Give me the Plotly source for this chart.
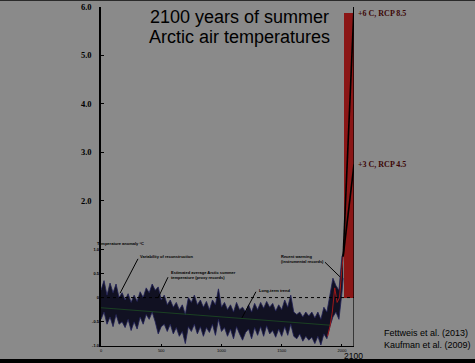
import plotly.graph_objects as go

# ---- data ----
years = [0, 25, 50, 75, 100, 125, 150, 175, 200, 225, 250, 275, 300, 325, 350, 375, 400,
         425, 450, 475, 500, 525, 550, 575, 600, 625, 650, 675, 700, 725, 750, 775, 800,
         825, 850, 875, 900, 925, 950, 975, 1000, 1025, 1050, 1075, 1100, 1125, 1150, 1175,
         1200, 1225, 1250, 1275, 1300, 1325, 1350, 1375, 1400, 1425, 1450, 1475, 1500, 1525,
         1550, 1575, 1600, 1625, 1650, 1675, 1700, 1725, 1750, 1775, 1800, 1825, 1850, 1875,
         1900, 1925, 1950, 1975, 2000, 2010]
upper = [0.15, 0.35, 0.05, 0.30, 0.10, 0.28, 0.00, 0.10, -0.05, 0.08, -0.10, 0.05, -0.08, 0.12,
         0.00, 0.20, 0.10, 0.28, 0.15, 0.22, -0.05, 0.05, -0.15, -0.05, -0.20, -0.10, -0.25,
         -0.15, -0.35, 0.00, -0.10, 0.05, -0.15, -0.05, -0.20, -0.08, -0.25, -0.05, -0.15, 0.18,
         -0.20, -0.10, -0.25, -0.15, -0.30, -0.10, -0.25, -0.20, -0.30, -0.15, -0.30, -0.12,
         -0.25, -0.10, -0.22, -0.08, -0.20, -0.12, -0.28, -0.15, -0.25, -0.05, -0.20, 0.05,
         -0.30, -0.35, -0.30, -0.40, -0.30, -0.38, -0.30, -0.42, -0.30, -0.45, -0.20, -0.30,
         0.05, 0.40, 0.25, 0.15, 0.85, 0.90]
lower = [-0.45, -0.30, -0.55, -0.40, -0.60, -0.35, -0.55, -0.50, -0.62, -0.45, -0.68, -0.50,
         -0.65, -0.40, -0.55, -0.35, -0.45, -0.30, -0.50, -0.75, -0.60, -0.55, -0.70, -0.55,
         -0.75, -0.62, -0.80, -0.70, -0.95, -0.60, -0.70, -0.55, -0.75, -0.60, -0.80, -0.62,
         -0.72, -0.55, -0.78, -0.45, -0.70, -0.62, -0.80, -0.65, -0.85, -0.60, -0.75, -0.88,
         -0.72, -0.65, -0.85, -0.62, -0.78, -0.60, -0.80, -0.58, -0.75, -0.68, -0.82, -0.65,
         -0.80, -0.60, -0.78, -0.55, -0.80, -0.85, -0.75, -0.90, -0.80, -0.88, -0.82, -0.95,
         -0.80, -0.98, -0.75, -0.85, -0.60, -0.40, -0.30, -0.45, 0.10, 0.40]

trend_years = [0, 1900]
trend_values = [-0.21, -0.57]

instr_years = [1880, 1900, 1920, 1940, 1960, 1980, 2000, 2010]
instr_values = [-0.80, -0.60, -0.30, 0.20, -0.10, 0.00, 0.60, 0.85]

proj_years = [2010, 2100]
rcp85 = [0.85, 6.0]
rcp45 = [0.85, 2.75]

bar_x0, bar_x1, bar_top = 2020, 2100, 5.88

main_ticks = [2, 3, 4, 5, 6]
main_ticktext = ["2.0", "3.0", "4.0", "5.0", "6.0"]
inner_ticks = [-1, -0.5, 0, 0.5, 1]
inner_ticktext = ["-1.0", "-0.5", "0", "0.5", "1.0"]
x_ticks = [0, 500, 1000, 1500, 2000]
x_ticktext = ["0", "500", "1000", "1500", "2000"]

BG = "#8a8a8a"
BAND = "#111122"
EDGE = "#1e1e55"

fig = go.Figure()

# red projection bar
fig.add_trace(go.Bar(x=[(bar_x0 + bar_x1) / 2], y=[bar_top], width=[bar_x1 - bar_x0],
                     marker=dict(color="#8b1616", line=dict(width=0)), showlegend=False,
                     hoverinfo="skip"))

# uncertainty band
fig.add_trace(go.Scatter(x=years, y=lower, mode="lines", line=dict(color=EDGE, width=0.8),
                         showlegend=False, hoverinfo="skip"))
fig.add_trace(go.Scatter(x=years, y=upper, mode="lines", line=dict(color=EDGE, width=0.8),
                         fill="tonexty", fillcolor=BAND, showlegend=False, hoverinfo="skip"))

# long-term trend
fig.add_trace(go.Scatter(x=trend_years, y=trend_values, mode="lines",
                         line=dict(color="#1d4d22", width=0.8), showlegend=False))
# instrumental
fig.add_trace(go.Scatter(x=instr_years, y=instr_values, mode="lines",
                         line=dict(color="#a01818", width=1), showlegend=False))
# projections
fig.add_trace(go.Scatter(x=proj_years, y=rcp85, mode="lines",
                         line=dict(color="black", width=1.6), showlegend=False))
fig.add_trace(go.Scatter(x=proj_years, y=rcp45, mode="lines",
                         line=dict(color="black", width=1.6), showlegend=False))

# dummy trace for the inner axis
fig.add_trace(go.Scatter(x=[0], y=[0], yaxis="y2", mode="markers",
                         marker=dict(opacity=0), showlegend=False, hoverinfo="skip"))

fig.update_layout(
    width=475, height=363,
    margin=dict(l=101, r=121, t=7, b=17),
    paper_bgcolor=BG, plot_bgcolor=BG,
    bargap=0,
    xaxis=dict(range=[0, 2100], showgrid=False, zeroline=False, automargin=False,
               showline=True, linecolor="black", linewidth=1,
               tickvals=x_ticks, ticktext=x_ticktext, ticks="inside", ticklen=2,
               tickcolor="black", tickfont=dict(size=4, color="black",
                                                family="Liberation Sans")),
    yaxis=dict(range=[-1, 6], showgrid=False, zeroline=False, automargin=False,
               showline=True, linecolor="black", linewidth=1.5,
               tickvals=main_ticks, ticktext=main_ticktext, ticks="inside", ticklen=3,
               tickcolor="black", ticklabelstandoff=6,
               tickfont=dict(size=8.5, color="black", family="Liberation Serif", weight="bold")),
    yaxis2=dict(range=[-1, 6], overlaying="y", anchor="x", side="left", automargin=False,
                showgrid=False, zeroline=False, showline=False,
                tickvals=inner_ticks, ticktext=inner_ticktext, ticks="inside", ticklen=3,
                tickcolor="black", ticklabelstandoff=1,
                tickfont=dict(size=4, color="black", family="Liberation Sans", weight="bold")),
)

# frame shapes
fig.add_shape(type="line", xref="x", yref="y", x0=2100, x1=2100, y0=-1, y1=6,
              line=dict(color="black", width=1.2), layer="above")
fig.add_shape(type="line", xref="x", yref="y", x0=0, x1=2100, y0=0, y1=0,
              line=dict(color="black", width=1, dash="dot"))
fig.add_shape(type="rect", xref="paper", yref="paper", x0=-0.5, x1=1.6,
              y0=-0.06, y1=-0.038, fillcolor="black", line=dict(width=0), layer="above")
fig.add_shape(type="rect", xref="paper", yref="paper", x0=-0.5, x1=1.6,
              y0=1.018, y1=1.03, fillcolor="#2a2a2a", line=dict(width=0), layer="above")

# leader lines
leaders = [
    (307, 0.80, 158, 0.09),
    (556, 0.42, 473, -0.01),
    (1286, 0.12, 1170, -0.42),
    (1859, 0.73, 1983, 0.43),
]
for x0, y0, x1, y1 in leaders:
    fig.add_shape(type="line", xref="x", yref="y", x0=x0, y0=y0, x1=x1, y1=y1,
                  line=dict(color="black", width=1))

# pixel helpers for text outside the axes (paper coords)
PW, PH = 475 - 101 - 121, 363 - 7 - 17
def px(xp):
    return (xp - 101) / PW
def py(yp):
    return (363 - 17 - yp) / PH

small = dict(size=4, color="black", family="Liberation Sans")
def ann(x, y, text, xanchor="left", yanchor="middle", font=small, xref="x", yref="y", align="left"):
    fig.add_annotation(x=x, y=y, xref=xref, yref=yref, text=text, showarrow=False,
                       xanchor=xanchor, yanchor=yanchor, font=font, align=align)

ann(307, 0.84, "<b>Variability of reconstruction</b>")
ann(564, 0.47, "<b>Estimated average Arctic summer<br>temperature (proxy records)</b>")
ann(1295, 0.15, "<b>Long-term trend</b>")
ann(1867, 0.79, "<b>Recent warming<br>(instrumental records)</b>", xanchor="right")
ann(px(95), py(243), "<b>Temperature anomaly °C</b>", xref="paper", yref="paper")

ann(px(353), py(356), "2100", xanchor="center", xref="paper", yref="paper",
    font=dict(size=8.5, color="black", family="Liberation Sans"))

title_font = dict(size=18, color="black", family="Liberation Sans")
ann(px(239), py(17), "2100 years of summer", xanchor="center", xref="paper", yref="paper",
    font=title_font)
ann(px(239), py(37), "Arctic air temperatures", xanchor="center", xref="paper", yref="paper",
    font=title_font)

rcp_font = dict(size=8, color="#3c0606", family="Liberation Serif", weight="bold")
ann(px(356), py(14), "+6 C, RCP 8.5", xref="paper", yref="paper", font=rcp_font)
ann(px(356), py(164), "+3 C, RCP 4.5", xref="paper", yref="paper", font=rcp_font)

ref_font = dict(size=9, color="black", family="Liberation Sans")
ann(px(382), py(333), "Fettweis et al. (2013)", xref="paper", yref="paper", font=ref_font)
ann(px(382), py(345), "Kaufman et al. (2009)", xref="paper", yref="paper", font=ref_font)

fig.write_html("out.html", config={"displayModeBar": False})

# remove the default page margin so the figure sits at the window's top-left corner
with open("out.html", "r", encoding="utf-8") as f:
    html = f.read()
html = html.replace("<head>", "<head><style>html,body{margin:0;padding:0;}</style>", 1)
with open("out.html", "w", encoding="utf-8") as f:
    f.write(html)
